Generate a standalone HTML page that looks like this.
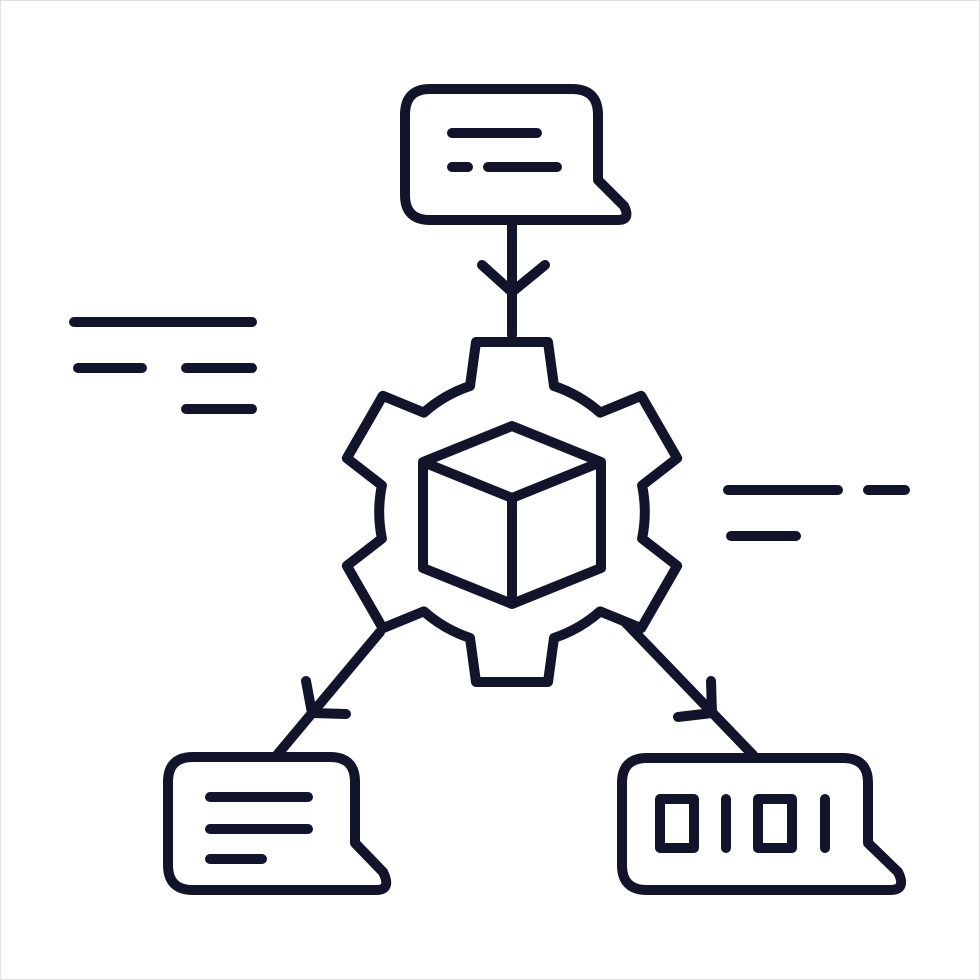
<!DOCTYPE html>
<html><head><meta charset="utf-8"><style>html,body{margin:0;padding:0;background:#fff}svg{display:block}</style></head>
<body>
<svg width="980" height="980" viewBox="0 0 980 980" xmlns="http://www.w3.org/2000/svg">
<rect x="0.5" y="0.5" width="979" height="979" fill="#fff" stroke="#e2e2e2"/>
<g fill="none" stroke="#12142b" stroke-width="10" stroke-linecap="round" stroke-linejoin="round">
<!-- top bubble -->
<path d="M430 89 H572 Q598 89 598 115 V180 L624 206 Q631 220 618 220 H430 Q405 220 405 195 V115 Q405 89 430 89 Z"/>
<path d="M452 133 H537 M452 167 H468 M488 167 H557"/>
<path d="M512 220 V335 M482 265 L512 292 L545 265"/>
<!-- gear -->
<path d="M470 386 L476 342 L548 342 L554 386 A133 133 0 0 1 600.1 412.6 L641.2 395.8 L677.2 458.2 L642.1 485.4 A133 133 0 0 1 642.1 538.6 L677.2 565.8 L641.2 628.2 L600.1 611.4 A133 133 0 0 1 554 638 L548 682 L476 682 L470 638 A133 133 0 0 1 423.9 611.4 L382.8 628.2 L346.8 565.8 L381.9 538.6 A133 133 0 0 1 381.9 485.4 L346.8 458.2 L382.8 395.8 L423.9 412.6 A133 133 0 0 1 470 386 Z"/>
<!-- cube -->
<path d="M512 426 L601 462 L601 568 L512 604 L423 568 L423 462 Z M423 462 L512 498 L601 462 M512 498 V604"/>
<!-- connectors -->
<path d="M380 632 L277 755 M306 681 L312 713 L346 714"/>
<path d="M625 622 L753 755 M711 681 L712 713 L678 717"/>
<!-- left bubble -->
<path d="M193 757 H330 Q355 757 355 782 V843 L383 872 Q392 890 376 890 H193 Q168 890 168 865 V782 Q168 757 193 757 Z"/>
<path d="M210 797 H308 M210 829 H308 M210 859 H262"/>
<!-- right bubble -->
<path d="M647 758 H843 Q868 758 868 783 V843 L898 872 Q907 890 890 890 H647 Q622 890 622 865 V783 Q622 758 647 758 Z"/>
<rect x="660" y="799" width="34" height="49"/>
<rect x="758" y="799" width="34" height="49"/>
<path d="M726 799 V848 M825 799 V848"/>
<!-- dashes -->
<path d="M74 322 H252 M78 368 H142 M186 368 H252 M186 409 H252"/>
<path d="M728 490 H838 M868 490 H905 M731 536 H796"/>
</g>
</svg>
</body></html>
